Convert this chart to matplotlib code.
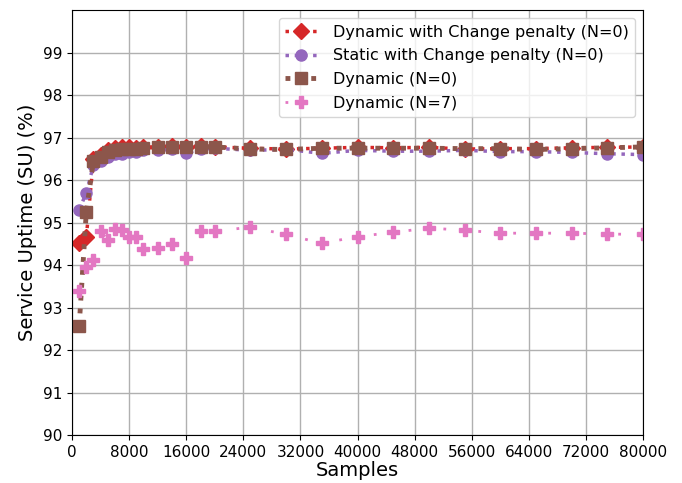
import matplotlib
matplotlib.use("Agg")
import matplotlib.pyplot as plt

samples = [1000, 2000, 3000, 4000, 5000, 6000, 7000, 8000, 9000, 10000,
           12000, 14000, 16000, 18000, 20000, 25000, 30000, 35000, 40000,
           45000, 50000, 55000, 60000, 65000, 70000, 75000, 80000]

dyn_penalty = [94.52, 94.65, 96.50, 96.60, 96.70, 96.75, 96.77, 96.78, 96.75, 96.77,
               96.78, 96.80, 96.78, 96.80, 96.78, 96.75, 96.73, 96.75, 96.77,
               96.76, 96.77, 96.73, 96.74, 96.74, 96.76, 96.77, 96.78]
static_penalty = [95.30, 95.70, 96.35, 96.45, 96.55, 96.62, 96.62, 96.65, 96.65, 96.70,
                  96.70, 96.72, 96.64, 96.72, 96.75, 96.70, 96.72, 96.63, 96.70,
                  96.68, 96.68, 96.70, 96.67, 96.67, 96.65, 96.62, 96.60]
dyn_n0 = [92.56, 95.25, 96.45, 96.55, 96.65, 96.70, 96.72, 96.73, 96.72, 96.75,
          96.77, 96.77, 96.77, 96.78, 96.78, 96.73, 96.72, 96.75, 96.75,
          96.75, 96.75, 96.74, 96.74, 96.72, 96.74, 96.76, 96.78]
dyn_n7 = [93.39, 93.96, 94.12, 94.81, 94.59, 94.85, 94.82, 94.67, 94.67, 94.37,
          94.41, 94.49, 94.16, 94.81, 94.80, 94.89, 94.72, 94.51, 94.67,
          94.77, 94.87, 94.82, 94.75, 94.75, 94.75, 94.73, 94.72]

labels = ["Dynamic with Change penalty (N=0)", "Static with Change penalty (N=0)",
          "Dynamic (N=0)", "Dynamic (N=7)"]
xticks = list(range(0, 80001, 8000))
yticks = list(range(90, 100))

fig = plt.figure(figsize=(6.82, 4.83), dpi=100)
ax = fig.add_axes([0.1056, 0.0994, 0.8374, 0.8796])

ax.plot(samples, dyn_penalty, ':', color='tab:red', lw=2.5, marker='D', ms=8, label=labels[0])
ax.plot(samples, static_penalty, ':', color='tab:purple', lw=2.5, marker='o', ms=8, label=labels[1])
ax.plot(samples, dyn_n0, ':', color='tab:brown', lw=3.5, marker='s', ms=8, label=labels[2])
ax.plot(samples, dyn_n7, color='tab:pink', lw=2, ls=(0, (1, 11.6)), marker='P', ms=9, label=labels[3])

ax.set_xlim(0, 80000)
ax.set_ylim(90, 100)
ax.set_xticks(xticks)
ax.set_yticks(yticks)
ax.tick_params(labelsize=11)
ax.grid(True, color='#b0b0b0', lw=1)
ax.set_axisbelow(True)

ax.set_xlabel("Samples", fontsize=14, labelpad=1)
ax.set_ylabel("Service Uptime (SU) (%)", fontsize=14)

ax.legend(loc='upper right', fontsize=11.5, handletextpad=1.0, labelspacing=0.55)

fig.savefig("out.png", dpi=100)
